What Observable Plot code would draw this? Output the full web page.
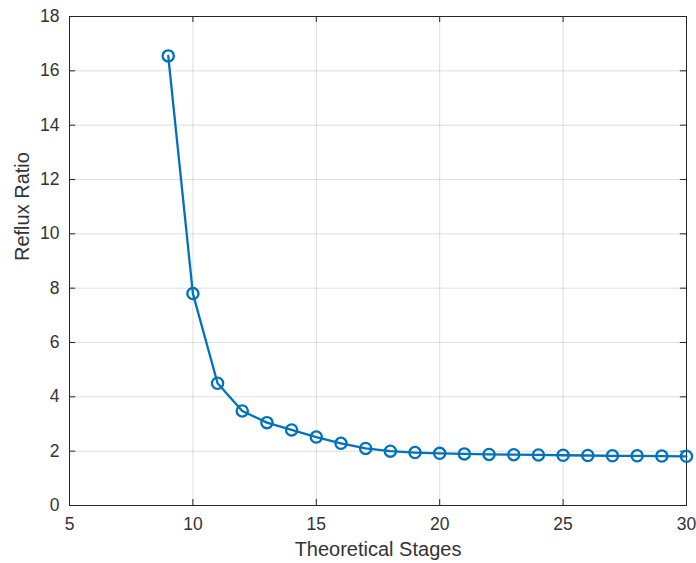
<!DOCTYPE html>
<html><head><meta charset="utf-8">
<script src="https://cdn.jsdelivr.net/npm/d3@7"></script>
<script src="https://cdn.jsdelivr.net/npm/@observablehq/plot@0.6"></script>
<style>body{margin:0;background:#fff;} #chart svg{display:block;}</style>
</head><body><div id="chart"></div>
<script>
const stages = [9,10,11,12,13,14,15,16,17,18,19,20,21,22,23,24,25,26,27,28,29,30];
const reflux = [16.55,7.8,4.5,3.48,3.05,2.78,2.52,2.29,2.1,2.0,1.95,1.92,1.9,1.88,1.87,1.86,1.85,1.84,1.83,1.83,1.82,1.81];
const xTicks = [5,10,15,20,25,30];
const yTicks = [0,2,4,6,8,10,12,14,16,18];
const data = stages.map((s,i)=>({s, r: reflux[i]}));
const color = "#0072BD";
const axisColor = "#262626";
const textColor = "#333333";
const chart = Plot.plot({
  width: 696, height: 563,
  marginLeft: 69, marginRight: 10, marginTop: 16, marginBottom: 58,
  style: {fontFamily: "'Liberation Sans', Arial, sans-serif", fontSize: "17px", color: textColor, background: "#fff"},
  x: {domain: [5,30], ticks: xTicks, label: null},
  y: {domain: [0,18], ticks: yTicks, label: null},
  marks: [
    Plot.gridX(xTicks, {stroke: "#262626", strokeOpacity: 0.15}),
    Plot.gridY(yTicks, {stroke: "#262626", strokeOpacity: 0.15}),
    Plot.ruleX(xTicks, {x: d=>d, y1: 0, y2: 0.22, stroke: axisColor}),
    Plot.ruleX(xTicks, {x: d=>d, y1: 18, y2: 17.78, stroke: axisColor}),
    Plot.ruleY(yTicks, {y: d=>d, x1: 5, x2: 5.25, stroke: axisColor}),
    Plot.ruleY(yTicks, {y: d=>d, x1: 30, x2: 29.75, stroke: axisColor}),
    Plot.frame({stroke: axisColor, strokeWidth: 1}),
    Plot.axisX(xTicks, {tickSize: 0, tickPadding: 12, fontSize: 17.5, fill: textColor}),
    Plot.axisY(yTicks, {tickSize: 0, tickPadding: 10, fontSize: 17.5, fill: textColor}),
    Plot.line(data, {x: "s", y: "r", stroke: color, strokeWidth: 2.3}),
    Plot.dot(data, {x: "s", y: "r", r: 5.6, stroke: color, strokeWidth: 2.3, fill: "none"}),
    Plot.text(["Theoretical Stages"], {frameAnchor: "bottom", dy: 50, fontSize: 20, fill: textColor}),
    Plot.text(["Reflux Ratio"], {frameAnchor: "left", dx: -47, rotate: -90, fontSize: 20, fill: textColor})
  ]
});
document.getElementById("chart").append(chart);
</script></body></html>
